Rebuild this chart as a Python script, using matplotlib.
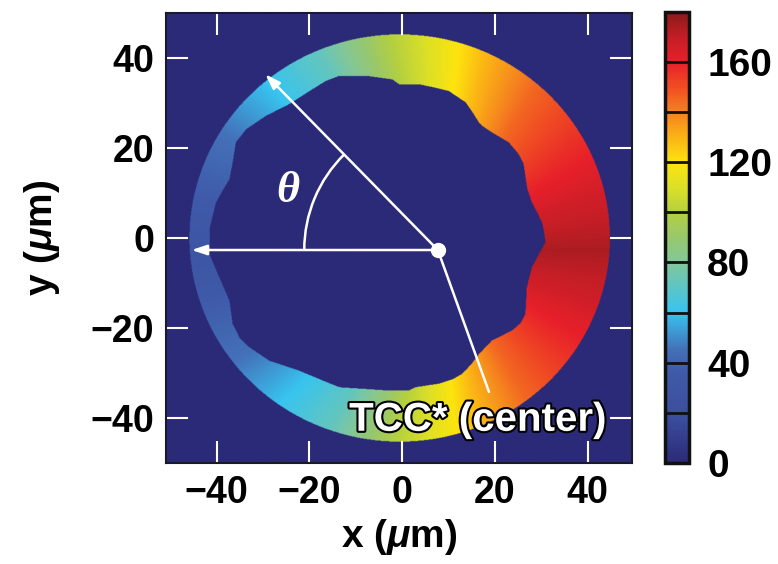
import numpy as np
import matplotlib
matplotlib.use('Agg')
import matplotlib.pyplot as plt
from matplotlib.colors import LinearSegmentedColormap
from matplotlib.path import Path
from matplotlib.patches import Arc
import matplotlib.patheffects as pe

plt.rcParams['font.family'] = ['Liberation Sans', 'DejaVu Sans']
plt.rcParams['font.weight'] = 'bold'
plt.rcParams['axes.labelweight'] = 'bold'
plt.rcParams['mathtext.fontset'] = 'custom'
plt.rcParams['mathtext.rm'] = 'Liberation Sans:bold'
plt.rcParams['mathtext.it'] = 'Liberation Sans:italic:bold'
plt.rcParams['mathtext.bf'] = 'Liberation Sans:bold'

# colour scale
cbar_values = [0, 18, 36, 45, 60, 80, 90, 100, 110, 120, 130, 140, 150, 160, 170, 180]
cbar_colors = ['#2b2a78', '#3b4e9e', '#3f5aa8', '#4470b8', '#38c4f0', '#82c79a',
               '#98c86c', '#b4d040', '#dce026', '#fde40e', '#fbb415', '#f5821f',
               '#f04e23', '#e8202a', '#c41e26', '#8b1a1a']
cbar_ticks = [0, 40, 80, 120, 160]
cbar_edges = [20, 40, 60, 80, 100, 120, 140, 160]

# value around the ring vs angle from -x seen from TCC*
ring_theta = [0, 10, 30, 45, 60, 78, 94, 103, 120, 140, 160, 180]
ring_value = [30, 35, 46, 60, 72, 100, 118, 129, 145, 156, 166, 174]

# outer edge of the ring (circle) and inner, ragged edge
outer_center = (-0.5, 0.0)
outer_radius = 45.3
inner_x = [30.9, 30.6, 30.2, 28.0, 27.0, 26.6, 26.2, 25.2, 23.0, 19.4, 17.5, 16.6, 15.0,
           13.7, 10.1, 6.5, 3.7, -0.6, -2.1, -7.8, -13.5, -16.5, -19.3, -24.3, -29.3,
           -33.6, -35.8, -36.5, -37.2, -38.8, -40.1, -41.5, -41.5, -39.4, -37.2,
           -36.5, -35.0, -32.9, -28.6, -22.2, -17.1, -13.5, -7.8, -3.5, 1.5, 2.9,
           8.0, 11.0, 13.0, 15.0, 16.6, 19.4, 23.7, 25.5, 26.6, 26.9, 28.0, 29.5]
inner_y = [-1.0, 1.5, 3.5, 7.9, 11.0, 13.8, 16.5, 18.6, 21.3, 23.5, 24.8, 25.7, 28.3,
           30.2, 32.7, 33.6, 34.2, 34.2, 35.3, 36.1, 36.1, 34.9, 33.1, 29.8, 27.2,
           24.2, 21.3, 16.8, 13.1, 10.3, 7.9, 2.0, -3.6, -8.7, -13.9,
           -19.1, -22.2, -24.3, -27.3, -29.5, -31.7, -33.2, -33.6, -33.9, -33.9, -33.2,
           -32.4, -31.4, -30.2, -28.0, -25.8, -22.8, -20.6, -19.0, -16.9, -11.0, -6.5, -3.6]

tcc = (7.7, -2.7)
arrow_left_tip = (-45.4, -2.7)
arrow_diag_tip = (-29.5, 36.4)
label_line_end = (18.7, -34.2)

xlim = (-50.8, 49.5)
ylim = (-50.0, 50.0)

cmap = LinearSegmentedColormap.from_list(
    'ring', [(v / 180.0, c) for v, c in zip(cbar_values, cbar_colors)])

# build the image
xs = np.linspace(xlim[0], xlim[1], 800)
ys = np.linspace(ylim[0], ylim[1], 800)
X, Y = np.meshgrid(xs, ys)
outer = (X - outer_center[0])**2 + (Y - outer_center[1])**2 <= outer_radius**2
hole = Path(np.column_stack([inner_x, inner_y])).contains_points(
    np.column_stack([X.ravel(), Y.ravel()])).reshape(X.shape)
theta = np.degrees(np.arctan2(np.abs(Y - tcc[1]), -(X - tcc[0])))
field = np.where(outer & ~hole, np.interp(theta, ring_theta, ring_value), 0.0)

fig = plt.figure(figsize=(7.78, 5.64), dpi=100)
ax = fig.add_axes([0.214, 0.1796, 0.598, 0.7973])
im = ax.imshow(field, extent=[xlim[0], xlim[1], ylim[0], ylim[1]], origin='lower',
               aspect='auto', cmap=cmap, vmin=0, vmax=180, interpolation='bilinear')
ax.set_xlim(xlim)
ax.set_ylim(ylim)

ax.set_xticks([-40, -20, 0, 20, 40])
ax.set_yticks([-40, -20, 0, 20, 40])
ax.tick_params(direction='in', length=16, width=1.5, color='white',
               top=True, right=True, labelsize=27, pad=9)
for sp in ax.spines.values():
    sp.set_linewidth(1.5)
    sp.set_color('#1a1a2a')

ax.set_xlabel(r'x ($\mu$m)', fontsize=28, fontweight='bold', labelpad=4)
ax.set_ylabel(r'y ($\mu$m)', fontsize=28, fontweight='bold', labelpad=20)

# annotations
white = 'white'
arrow_kw = dict(arrowstyle='-|>,head_length=0.9,head_width=0.3', color=white,
                lw=1.8, shrinkA=0, shrinkB=0)
ax.annotate('', xy=arrow_left_tip, xytext=tcc, arrowprops=arrow_kw)
ax.annotate('', xy=arrow_diag_tip, xytext=tcc, arrowprops=arrow_kw)
ax.plot([tcc[0], label_line_end[0]], [tcc[1], label_line_end[1]], color=white, lw=1.8)
ax.plot(tcc[0], tcc[1], 'o', color=white, ms=10, zorder=6)
ax.add_patch(Arc(tcc, width=2 * 28.8, height=2 * 29.8, theta1=133.6, theta2=180,
                 color=white, lw=1.8))
ax.text(-24.7, 10.4, 'θ', family='Liberation Serif', style='italic', weight='bold',
        fontsize=32, color=white, ha='center', va='center')
ax.text(16.3, -42.9, 'TCC* (center)', ha='center', va='baseline', fontsize=29,
        color=white, weight='bold',
        path_effects=[pe.withStroke(linewidth=3, foreground='black')])

# colour bar
cax = fig.add_axes([0.8548, 0.179, 0.0309, 0.8002])
cbar = fig.colorbar(im, cax=cax, ticks=cbar_ticks)
cbar.outline.set_linewidth(2.5)
cbar.outline.set_edgecolor('#111111')
for v in cbar_edges:
    cax.axhline(v, color='#111111', lw=2)
cax.tick_params(length=0, labelsize=28, pad=13)

fig.savefig('out.png', dpi=100)
